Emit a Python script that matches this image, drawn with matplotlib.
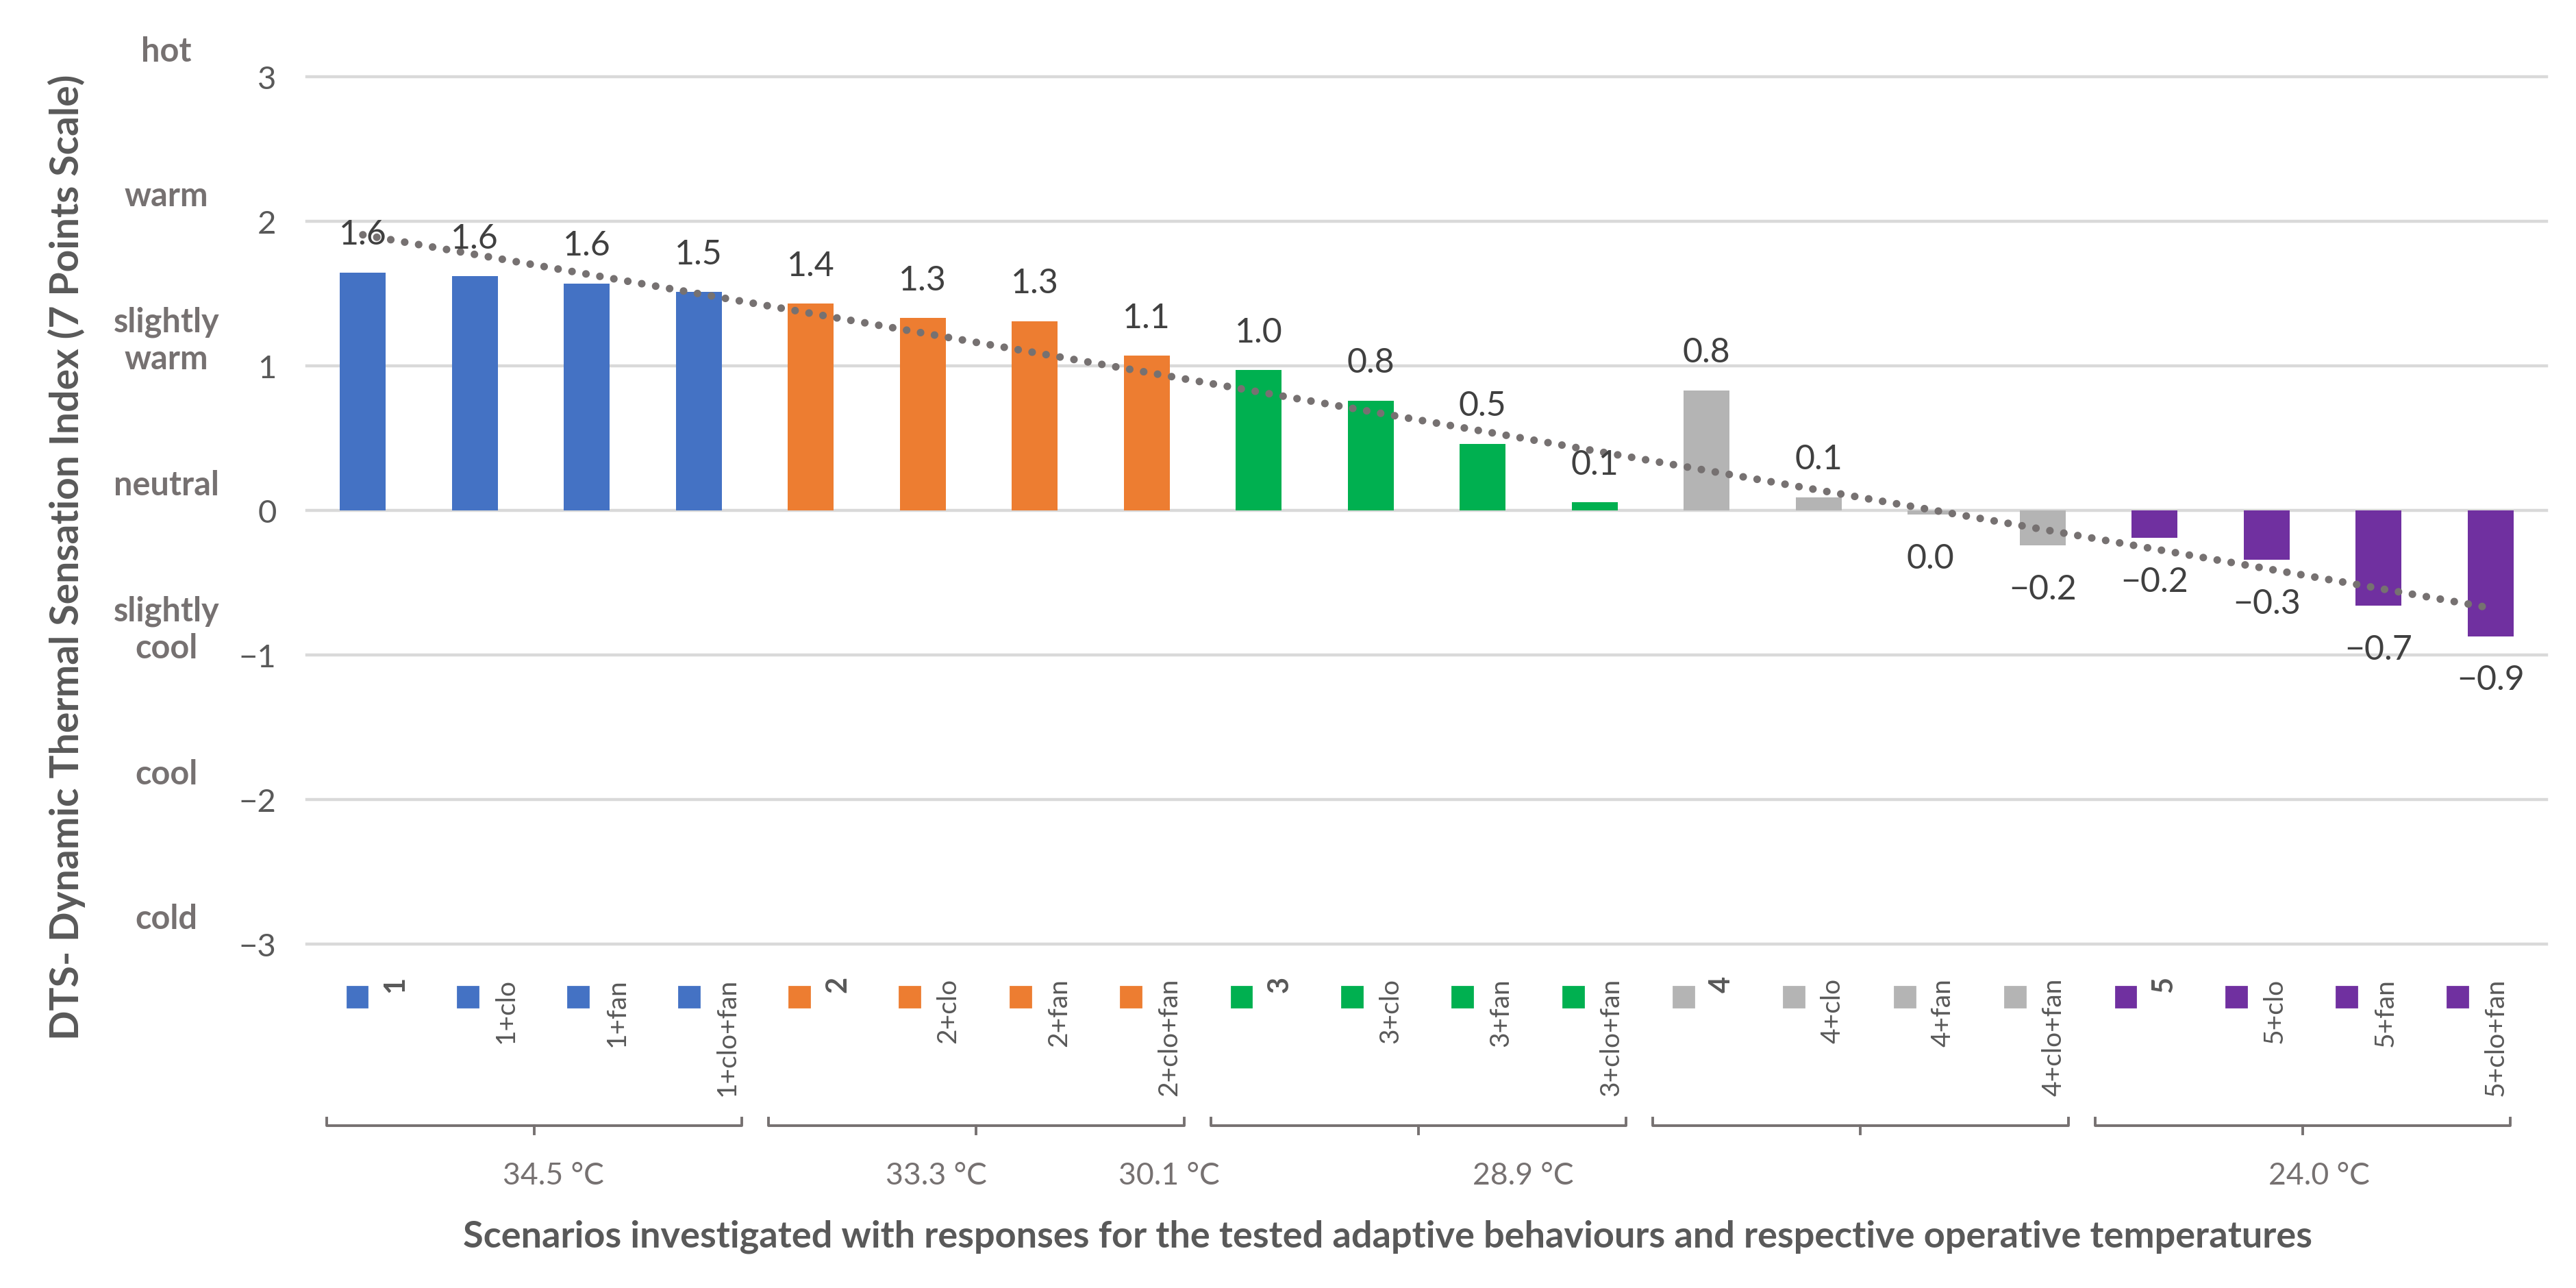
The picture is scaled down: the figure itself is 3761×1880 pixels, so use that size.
import matplotlib
matplotlib.use("Agg")
import matplotlib.pyplot as plt
import numpy as np
from matplotlib.patches import Rectangle
from matplotlib.transforms import blended_transform_factory

plt.rcParams["font.family"] = ["Lato", "DejaVu Sans"]

W, H = 3761, 1881

scenarios = ["1", "1+clo", "1+fan", "1+clo+fan",
             "2", "2+clo", "2+fan", "2+clo+fan",
             "3", "3+clo", "3+fan", "3+clo+fan",
             "4", "4+clo", "4+fan", "4+clo+fan",
             "5", "5+clo", "5+fan", "5+clo+fan"]
dts = [1.645, 1.62, 1.57, 1.51,
       1.43, 1.33, 1.31, 1.07,
       0.97, 0.76, 0.46, 0.055,
       0.83, 0.09, -0.03, -0.24,
       -0.19, -0.34, -0.66, -0.87]
group_colors = ["#4472C4", "#ED7D31", "#00B050", "#B4B4B4", "#7030A0"]
sensation_levels = [3, 2, 1, 0, -1, -2, -3]
sensation_names = ["hot", "warm", "slightly\nwarm", "neutral", "slightly\ncool", "cool", "cold"]
temps = ["34.5 °C", "33.3 °C", "30.1 °C", "28.9 °C", "24.0 °C"]
temp_pos = [1.70, 5.12, 7.20, 10.36, 17.47]   # where the labels sit on the category axis

GRID = "#D9D9D9"
TXT = "#595959"
DARK = "#404040"
LINE = "#767171"


def fy(px):
    # pixel row from the top -> figure fraction
    return 1 - px / H


def row_x(i):
    # the category row under the plot drifts a little to the left
    return i * 0.987 - 0.05


fig = plt.figure(figsize=(W / 200, H / 200), dpi=200)
ax = fig.add_axes([448 / W, fy(1379), (3718 - 448) / W, (1379 - 113) / H])

x = np.arange(len(dts))
colors = [group_colors[i // 4] for i in x]
ax.bar(x, dts, width=0.41, color=colors, zorder=2)

for lv in sensation_levels:
    ax.axhline(lv, color=GRID, linewidth=1.6, zorder=0, clip_on=False)

# linear trend line
k, b = np.polyfit(x, dts, 1)
ax.plot(x[[0, -1]], k * x[[0, -1]] + b, color=LINE, linewidth=4.0,
        linestyle=(0, (0.01, 1.85)), dash_capstyle="round", zorder=3)

for xi, v in zip(x, dts):
    lab = f"{v:.1f}".replace("-", "\u2212")
    if lab == "\u22120.0":
        lab = "0.0"
    off = 20 if v > 0 else -23
    ax.annotate(lab, (xi, v), xytext=(0, off), textcoords="offset points",
                ha="center", va="center", fontsize=18, color=DARK, zorder=4)

ax.set_xlim(-0.5, len(dts) - 0.5)
ax.set_ylim(-3, 3)
ax.set_yticks(sensation_levels)
ax.set_yticklabels([f"{lv}".replace("-", "\u2212") for lv in sensation_levels])
ax.tick_params(axis="y", length=0, pad=16, labelsize=17, labelcolor=TXT)
ax.set_xticks([])
for s in ax.spines.values():
    s.set_visible(False)

# thermal sensation words beside the scale
yt = blended_transform_factory(fig.transFigure, ax.transData)
for lv, name in zip(sensation_levels, sensation_names):
    ax.text(243 / W, lv + 0.18, name, transform=yt, ha="center", va="center",
            fontsize=17.5, fontweight="bold", color=LINE, linespacing=1.25)

# category row: colour keys, scenario names, group brackets, temperatures
xt = blended_transform_factory(ax.transData, fig.transFigure)
for i, name in enumerate(scenarios):
    ax.add_patch(Rectangle((row_x(i) - 0.092, fy(1471)), 0.183, 30 / H,
                           transform=xt, color=colors[i], clip_on=False))
    base = "+" not in name
    ax.text(row_x(i) + 0.343, fy(1425 if base else 1428), name, transform=xt,
            rotation=90, ha="center", va="top", fontsize=15 if base else 14,
            fontweight="bold" if base else "normal", color=TXT, clip_on=False)

for g in range(5):
    x0 = row_x(4 * g - 0.5) + 0.22
    x1 = row_x(4 * g + 3.5) - 0.02
    ax.plot([x0, x0, x1, x1], [fy(1633), fy(1644), fy(1644), fy(1633)],
            transform=xt, color=LINE, linewidth=1.4, clip_on=False)
    xm = (x0 + x1) / 2
    ax.plot([xm, xm], [fy(1644), fy(1656)], transform=xt, color=LINE,
            linewidth=1.4, clip_on=False)

for t, p in zip(temps, temp_pos):
    ax.text(p, fy(1717), t, transform=xt, ha="center", va="center",
            fontsize=16, color=LINE, clip_on=False)

fig.text(97 / W, fy(813), "DTS- Dynamic Thermal Sensation Index (7 Points Scale)",
         rotation=90, ha="center", va="center", fontsize=20.5, fontweight="bold", color=TXT)
fig.text(2026 / W, fy(1805),
         "Scenarios investigated with responses for the tested adaptive behaviours and respective operative temperatures",
         ha="center", va="center", fontsize=19.5, fontweight="bold", color=TXT)

fig.savefig("out.png", dpi=200, facecolor="white")
